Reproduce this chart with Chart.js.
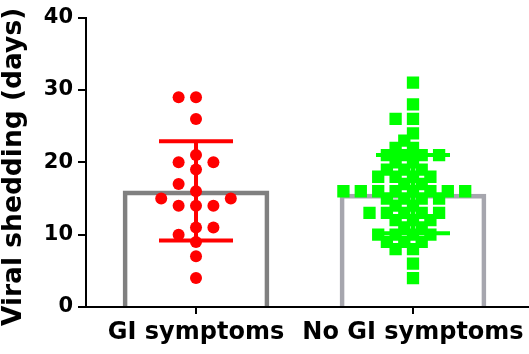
<!DOCTYPE html>
<html>
<head>
<meta charset="utf-8">
<script src="https://cdn.jsdelivr.net/npm/chart.js@4/dist/chart.umd.min.js"></script>
<style>
  html, body { margin: 0; padding: 0; background: #fff; overflow: hidden; }
  #wrap { width: 529px; height: 354px; position: relative; }
</style>
</head>
<body>
<div id="wrap"><canvas id="sheddingChart"></canvas></div>
<script>
// values (days)
const groupLabels = ['GI symptoms', 'No GI symptoms'];
const giDays = [29, 29, 26, 21, 20, 20, 19, 17, 16, 15, 15, 14, 14, 14, 11, 11, 10, 9, 7, 4];
const noGiDays = [31, 28, 26, 26, 24, 23, 22, 22, 21, 21, 21, 21, 20, 20, 19, 19, 19,
    18, 18, 18, 18, 17, 17, 16, 16, 16, 16, 16, 16, 16, 16, 15, 15, 15, 15, 14, 14,
    13, 13, 13, 13, 13, 12, 12, 12, 11, 11, 10, 10, 10, 10, 9, 9, 9, 8, 8, 6, 4];
const groupMeans = [16.05, 15.6];
const groupSDs = [6.85, 5.4];

const barEdgeColors = ['#808080', '#a6a6ae'];
const markColors = ['#ff0000', '#00ff00'];

// beeswarm spread: each point takes the nearest free half-slot (pixels -> x units)
const PX_PER_X = 217, PX_PER_Y = 7.25, SLOT = 8.7;
const swarm = (values, center, minDist) => {
    const placed = [];
    [...values].sort((a, b) => a - b).forEach(v => {
        for (let j = 0; j < 40; j++) {
            const k = j === 0 ? 0 : (j % 2 ? -Math.ceil(j / 2) : Math.ceil(j / 2));
            const px = k * SLOT;
            const clash = placed.some(p => {
                const dx = p.px - px, dy = (p.v - v) * PX_PER_Y;
                return Math.sqrt(dx * dx + dy * dy) < minDist;
            });
            if (!clash) { placed.push({ px, v }); break; }
        }
    });
    return placed.map(p => ({ x: center + p.px / PX_PER_X, y: p.v }));
};

// mean +/- SD error bars
const errorBars = {
    id: 'errorBars',
    afterDatasetsDraw(chart) {
        const { ctx, scales: { x, y } } = chart;
        ctx.save();
        ctx.lineWidth = 4;
        groupMeans.forEach((m, i) => {
            const cx = x.getPixelForValue(i + 1);
            const top = y.getPixelForValue(m + groupSDs[i]);
            const bot = y.getPixelForValue(m - groupSDs[i]);
            ctx.strokeStyle = markColors[i];
            ctx.beginPath();
            ctx.moveTo(cx, top); ctx.lineTo(cx, bot);
            ctx.moveTo(cx - 37, top); ctx.lineTo(cx + 37, top);
            ctx.moveTo(cx - 37, bot); ctx.lineTo(cx + 37, bot);
            ctx.stroke();
        });
        ctx.restore();
    }
};

const ctx = document.getElementById('sheddingChart').getContext('2d');
new Chart(ctx, {
    type: 'bar',
    data: {
        datasets: [
            {
                type: 'scatter',
                label: groupLabels[0],
                data: swarm(giDays, 1, 12.5),
                pointStyle: 'circle',
                pointRadius: 6,
                pointBackgroundColor: markColors[0],
                pointBorderWidth: 0,
                order: 1
            },
            {
                type: 'scatter',
                label: groupLabels[1],
                data: swarm(noGiDays, 2, 10),
                pointStyle: 'rect',
                pointRadius: 8.7,
                pointBackgroundColor: markColors[1],
                pointBorderWidth: 0,
                order: 1
            },
            {
                type: 'bar',
                label: 'mean',
                data: groupMeans.map((m, i) => ({ x: i + 1, y: m })),
                backgroundColor: 'rgba(255,255,255,0)',
                borderColor: barEdgeColors,
                borderWidth: 4,
                barThickness: 146,
                order: 3
            }
        ]
    },
    options: {
        responsive: true,
        maintainAspectRatio: false,
        animation: false,
        layout: { autoPadding: false, padding: { top: 17, right: 1, left: 0, bottom: 0 } },
        plugins: { legend: { display: false }, tooltip: { enabled: false } },
        scales: {
            x: {
                type: 'linear',
                min: 0.493,
                max: 2.53,
                offset: false,
                afterFit: (scale) => {
                    scale.height = 47;
                    scale.paddingLeft = 0;
                    scale.paddingRight = 0;
                },
                afterBuildTicks: (scale) => { scale.ticks = [{ value: 1 }, { value: 2 }]; },
                grid: { offset: false, drawOnChartArea: false, tickLength: 7, color: '#000', lineWidth: 2 },
                border: { color: '#000', width: 2 },
                ticks: {
                    color: '#000',
                    padding: 4,
                    maxRotation: 0,
                    autoSkip: false,
                    font: { family: 'DejaVu Sans', size: 24, weight: 'bold' },
                    callback: (v) => groupLabels[v - 1]
                }
            },
            y: {
                min: 0,
                max: 40,
                afterFit: (scale) => { scale.width = 86; },
                grid: { drawOnChartArea: false, tickLength: 8, color: '#000', lineWidth: 2 },
                border: { color: '#000', width: 2 },
                ticks: {
                    stepSize: 10,
                    color: '#000',
                    padding: 5,
                    font: { family: 'DejaVu Sans', size: 21, weight: 'bold' }
                },
                title: {
                    display: true,
                    // trailing space nudges the rotated title down a few px like the original
                    text: 'Viral shedding (days) ',
                    color: '#000',
                    padding: { top: 1, bottom: 0 },
                    font: { family: 'DejaVu Sans', size: 26.5, weight: 'bold', lineHeight: 1 }
                }
            }
        }
    },
    plugins: [errorBars]
});
</script>
</body>
</html>
